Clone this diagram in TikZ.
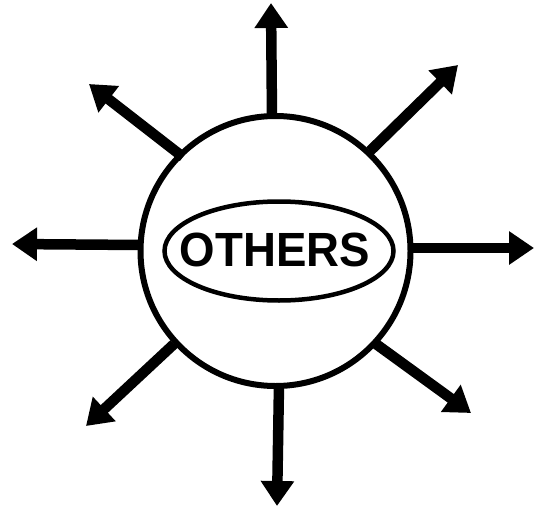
\documentclass[tikz,border=0pt]{standalone}
\usepackage{fontspec}
\setmainfont{Liberation Sans}
\usetikzlibrary{arrows.meta,shapes.geometric}
\begin{document}
\begin{tikzpicture}[x=1pt,y=-1pt,
  ray/.style={line width=10.5pt,-{Triangle[length=25pt,width=32pt]}},
  globe/.style={draw,circle,line width=6pt,minimum size=270pt,inner sep=0pt,outer sep=0pt},
  oval/.style={draw,ellipse,line width=4.5pt,minimum width=229pt,minimum height=99pt,inner sep=0pt},
  word/.style={font=\bfseries\fontsize{48}{48}\selectfont,inner sep=0pt,xscale=0.95}]
\useasboundingbox (0,0) rectangle (540,508);
\node[globe] (c) at (275.5,251) {};
\node[oval] (o) at (279,251) {};
\node[word] (w) at (275,249.5) {OTHERS};
\coordinate (tn) at (271,3);
\coordinate (ts) at (277,506);
\coordinate (tw) at (12,244);
\coordinate (te) at (534,248);
\coordinate (tnw) at (89,84);
\coordinate (tne) at (458,65);
\coordinate (tsw) at (86,426);
\coordinate (tse) at (471,413);
\coordinate (bn) at (272,118);
\coordinate (bs) at (279,384);
\coordinate (bw) at (140,245);
\coordinate (be) at (411,248);
\coordinate (bnw) at (183,157);
\coordinate (bne) at (370,151);
\coordinate (bsw) at (174,344);
\coordinate (bse) at (376,344);
\draw[ray] (bn) -- (tn);
\draw[ray] (bs) -- (ts);
\draw[ray] (bw) -- (tw);
\draw[ray] (be) -- (te);
\draw[ray] (bnw) -- (tnw);
\draw[ray] (bne) -- (tne);
\draw[ray] (bsw) -- (tsw);
\draw[ray] (bse) -- (tse);
\end{tikzpicture}
\end{document}
